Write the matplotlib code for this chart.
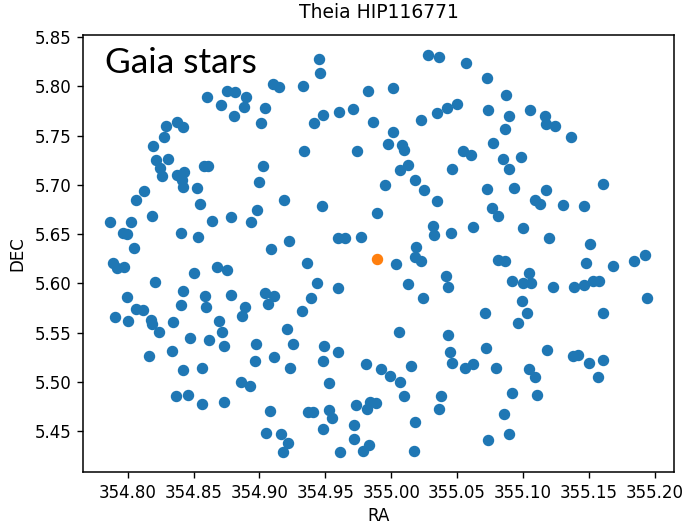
import matplotlib
matplotlib.use("Agg")
import matplotlib.pyplot as plt

# Gaia field stars around the target (RA, DEC in degrees)
ra = [
    354.8605, 354.8706, 354.8757, 354.8813, 354.8899, 354.8884, 354.8803, 354.9039, 354.9011, 354.8373,
    354.8293, 354.8419, 354.8274, 354.8190, 354.8216, 354.8305, 354.8242, 354.8259, 354.8376, 354.8424,
    354.8411, 354.8417, 354.8579, 354.8610, 354.9029, 354.8998, 354.8529, 354.8552, 354.8120, 354.8064,
    354.8978, 354.8935, 354.8780, 354.8643, 354.8183, 354.7866, 354.8021, 354.7962, 354.7995, 354.8407,
    354.8533, 354.8046, 354.7886, 354.7919, 354.7970, 354.9087, 354.8501, 354.8681, 354.8754, 354.8209,
    354.7992, 354.8059, 354.8114, 354.7904, 354.8000, 354.8173, 354.8183, 354.8236, 354.8346, 354.8417,
    354.8402, 354.8584, 354.8592, 354.8780, 354.8691, 354.8719, 354.8729, 354.8617, 354.8470, 354.8889,
    354.8864, 354.9042, 354.9112, 354.9062, 354.8971, 354.8968, 354.9112, 354.8160, 354.8335, 354.8419,
    354.8562, 354.8859, 354.8925, 354.8366, 354.8457, 354.8562, 354.8729, 354.9080, 354.9051, 354.9163,
    354.9179, 354.9105, 354.9150, 354.9453, 354.9461, 354.9333, 354.9821, 355.0014, 355.0276, 355.0367,
    355.0565, 354.9415, 354.9486, 354.9605, 354.9707, 354.9859, 355.0014, 355.0230, 355.0350, 355.0421,
    355.0502, 354.9341, 354.9740, 354.9973, 355.0085, 355.0095, 355.0129, 355.0065, 355.0184, 355.0248,
    354.9956, 355.0350, 355.0464, 355.0548, 355.0603, 354.9186, 354.9478, 354.9893, 355.0319, 355.0324,
    355.0456, 355.0622, 354.9224, 354.9600, 354.9651, 354.9771, 355.0192, 355.0184, 355.0228, 355.0040,
    354.9359, 354.9435, 354.9595, 354.9390, 354.9326, 355.0129, 355.0238, 355.0418, 355.0430, 355.0057,
    354.9207, 354.9257, 354.9232, 354.9493, 354.9600, 354.9486, 354.9531, 355.0430, 355.0446, 355.0464,
    355.0558, 355.0624, 354.9811, 354.9923, 354.9994, 355.0070, 355.0149, 355.0095, 355.0382, 355.0367,
    354.9371, 354.9410, 354.9531, 354.9550, 354.9486, 354.9733, 354.9816, 354.9842, 354.9887, 354.9714,
    354.9714, 354.9786, 354.9829, 354.9613, 354.9214, 355.0184, 355.0177, 355.0728, 355.0872, 355.0735,
    355.0891, 355.0865, 355.1055, 355.1165, 355.1175, 355.1246, 355.1363, 355.0776, 355.0853, 355.0891,
    355.0984, 355.0728, 355.0931, 355.1173, 355.1089, 355.1129, 355.1307, 355.1462, 355.1607, 355.0766,
    355.0809, 355.1002, 355.1200, 355.1508, 355.0811, 355.0865, 355.1480, 355.1688, 355.1843, 355.1929,
    355.0921, 355.1048, 355.1002, 355.1061, 355.1226, 355.1386, 355.1464, 355.1531, 355.1581, 355.1944,
    355.0994, 355.0712, 355.1028, 355.0964, 355.1607, 355.0723, 355.1180, 355.0794, 355.1048, 355.1091,
    355.1378, 355.1421, 355.1500, 355.1607, 355.1573, 355.0921, 355.1109, 355.0857, 355.0891, 355.0738,
]
dec = [
    5.7887, 5.7810, 5.7955, 5.7937, 5.7894, 5.7786, 5.7702, 5.7776, 5.7628, 5.7634,
    5.7594, 5.7584, 5.7483, 5.7389, 5.7247, 5.7265, 5.7170, 5.7089, 5.7103, 5.7129,
    5.7045, 5.6978, 5.7187, 5.7187, 5.7187, 5.7028, 5.6968, 5.6810, 5.6937, 5.6850,
    5.6742, 5.6624, 5.6669, 5.6631, 5.6682, 5.6624, 5.6624, 5.6507, 5.6500, 5.6513,
    5.6470, 5.6356, 5.6210, 5.6154, 5.6164, 5.6345, 5.6103, 5.6164, 5.6136, 5.6018,
    5.5861, 5.5742, 5.5732, 5.5659, 5.5614, 5.5631, 5.5591, 5.5503, 5.5604, 5.5924,
    5.5783, 5.5874, 5.5756, 5.5884, 5.5614, 5.5503, 5.5369, 5.5422, 5.5446, 5.5760,
    5.5672, 5.5901, 5.5874, 5.5793, 5.5386, 5.5217, 5.5255, 5.5261, 5.5311, 5.5119,
    5.5146, 5.4998, 5.4958, 5.4857, 5.4871, 5.4776, 5.4796, 5.4702, 5.4487, 5.4477,
    5.4288, 5.8022, 5.7988, 5.8275, 5.8129, 5.7998, 5.7952, 5.7985, 5.8318, 5.8298,
    5.8240, 5.7624, 5.7709, 5.7742, 5.7770, 5.7634, 5.7540, 5.7662, 5.7729, 5.7783,
    5.7816, 5.7338, 5.7338, 5.7412, 5.7406, 5.7348, 5.7197, 5.7146, 5.7053, 5.6944,
    5.7002, 5.6836, 5.7157, 5.7338, 5.7298, 5.6850, 5.6786, 5.6715, 5.6584, 5.6490,
    5.6513, 5.6574, 5.6429, 5.6457, 5.6457, 5.6467, 5.6366, 5.6271, 5.6230, 5.6197,
    5.6210, 5.6008, 5.5958, 5.5851, 5.5722, 5.5998, 5.5851, 5.6076, 5.5968, 5.5503,
    5.5540, 5.5386, 5.5146, 5.5362, 5.5301, 5.5217, 5.4988, 5.5477, 5.5305, 5.5190,
    5.5143, 5.5187, 5.5180, 5.5133, 5.5059, 5.4998, 5.5157, 5.4857, 5.4857, 5.4729,
    5.4699, 5.4699, 5.4715, 5.4631, 5.4520, 5.4763, 5.4722, 5.4796, 5.4783, 5.4561,
    5.4426, 5.4298, 5.4359, 5.4288, 5.4379, 5.4594, 5.4298, 5.8083, 5.7914, 5.7760,
    5.7702, 5.7568, 5.7760, 5.7702, 5.7618, 5.7594, 5.7483, 5.7422, 5.7265, 5.7157,
    5.7281, 5.6962, 5.6972, 5.6947, 5.6843, 5.6810, 5.6800, 5.6786, 5.7005, 5.6766,
    5.6682, 5.6564, 5.6457, 5.6396, 5.6237, 5.6224, 5.6210, 5.6177, 5.6224, 5.6285,
    5.6028, 5.6103, 5.6002, 5.6002, 5.5968, 5.5968, 5.5985, 5.6022, 5.6028, 5.5851,
    5.5826, 5.5699, 5.5699, 5.5598, 5.5699, 5.5348, 5.5321, 5.5146, 5.5133, 5.5048,
    5.5261, 5.5275, 5.5194, 5.5227, 5.5048, 5.4891, 5.4867, 5.4679, 5.4470, 5.4412,
]

# The target star itself
target_ra = [354.9893]
target_dec = [5.6247]

title = "Theia HIP116771"

fig = plt.figure(figsize=(6.84, 5.24), dpi=100)
ax = fig.add_axes([0.1218, 0.0992, 0.8636, 0.834])

ax.scatter(ra, dec, s=52, color="#1f77b4")
ax.scatter(target_ra, target_dec, s=52, color="#ff7f0e")

ax.set_xticks([354.80, 354.85, 354.90, 354.95, 355.00, 355.05, 355.10, 355.15, 355.20])
ax.set_yticks([5.45, 5.50, 5.55, 5.60, 5.65, 5.70, 5.75, 5.80, 5.85])
ax.xaxis.set_major_formatter(matplotlib.ticker.FormatStrFormatter("%.2f"))
ax.yaxis.set_major_formatter(matplotlib.ticker.FormatStrFormatter("%.2f"))
ax.tick_params(labelsize=12, length=4.5, width=1, pad=4)
for sp in ax.spines.values():
    sp.set_linewidth(1.1)

ax.set_xlabel("RA", fontsize=12, labelpad=4)
ax.set_ylabel("DEC", fontsize=12, labelpad=6)
ax.set_title(title, fontsize=13.5, pad=12)

ax.text(0.037, 0.912, "Gaia stars", transform=ax.transAxes, fontsize=25.5,
        family="Lato", va="baseline", ha="left", color="black")

fig.savefig("out.png", dpi=100)
